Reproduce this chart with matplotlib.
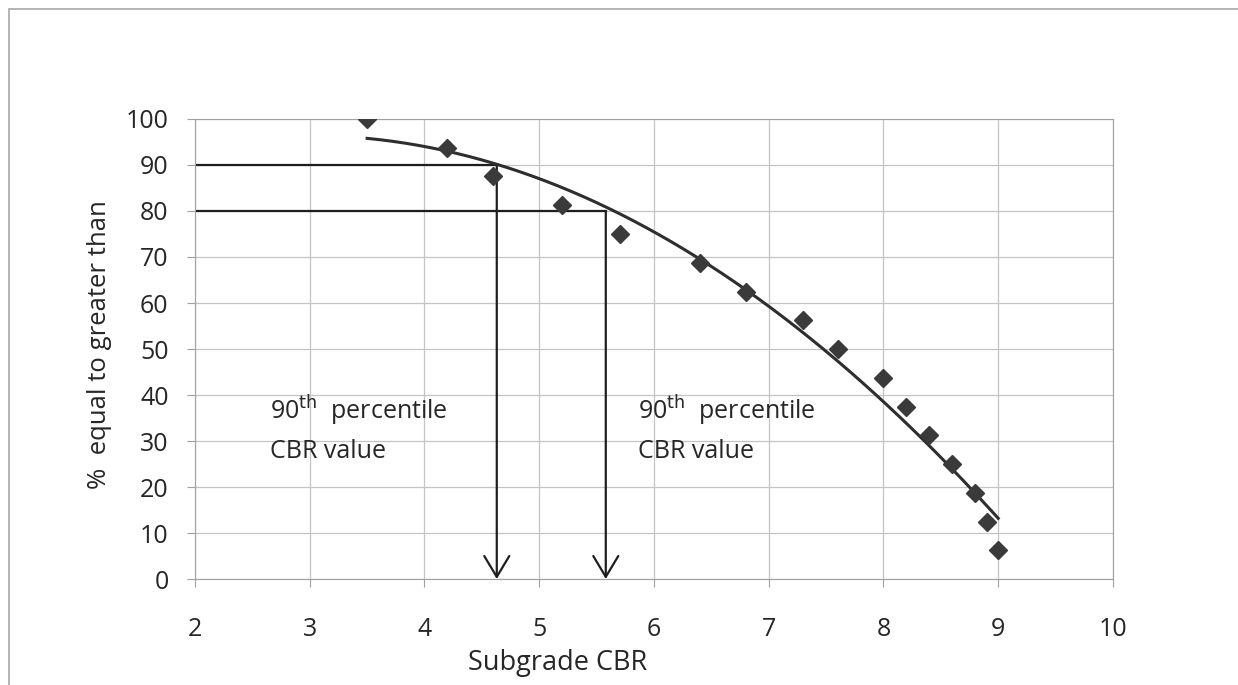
import matplotlib.pyplot as plt
import numpy as np
from matplotlib.patches import Rectangle

plt.rcParams['font.family'] = ['Open Sans', 'DejaVu Sans']

## data
cbr = [3.5, 4.2, 4.6, 5.2, 5.7, 6.4, 6.8, 7.3, 7.6, 8.0, 8.2, 8.4, 8.6, 8.8, 8.9, 9.0]
pct = [100, 93.75, 87.5, 81.25, 75, 68.75, 62.5, 56.25, 50, 43.75, 37.5, 31.25, 25, 18.75, 12.5, 6.25]
xticks = [2, 3, 4, 5, 6, 7, 8, 9, 10]
yticks = [0, 10, 20, 30, 40, 50, 60, 70, 80, 90, 100]
cbr_90 = [4.63, 5.58]
pct_lines = [90, 80]

fig = plt.figure(figsize=(12.38, 6.85), dpi=100)
ax = fig.add_axes([0.1575, 0.1547, 0.7415, 0.6716])

# outer frame of the scanned figure
fig.patches.append(Rectangle((9 / 1238, -0.1), 2.0, 1 - 9 / 685 + 0.1,
                             transform=fig.transFigure, fill=False,
                             edgecolor='#a8a8a8', lw=1.2))

ax.grid(True, color='#c4c4c4', lw=0.9)
ax.set_axisbelow(True)

## polynomial trendline (like Excel)
coef = np.polyfit(cbr, pct, 2)
xs = np.linspace(min(cbr), max(cbr), 200)
ax.plot(xs, np.polyval(coef, xs), color='#2e2e2e', lw=2.2, zorder=3)

ax.plot(cbr, pct, linestyle='none', marker='D', ms=9, color='#3a3a3a', zorder=4)

# percentile construction lines
for xv, yv in zip(cbr_90, pct_lines):
    ax.plot([2, xv], [yv, yv], color='#1e1e1e', lw=1.6, zorder=2)
    ax.annotate('', xy=(xv, 0), xytext=(xv, yv),
                arrowprops=dict(arrowstyle='->,head_length=0.75,head_width=0.45',
                                mutation_scale=20, shrinkA=0, shrinkB=0,
                                color='#1e1e1e', lw=1.6), zorder=2)

for tx in [2.65, 5.86]:
    ax.text(tx, 36.5, r'90$^{\mathrm{th}}$  percentile', fontsize=18, color='#262626',
            va='center', ha='left')
    ax.text(tx, 27.8, 'CBR value', fontsize=18, color='#262626', va='center', ha='left')

ax.set_xlim(2, 10)
ax.set_ylim(0, 100)
ax.set_xticks(xticks)
ax.set_yticks(yticks)
ax.tick_params(labelsize=18, colors='#262626', length=6, color='#a0a0a0')
ax.tick_params(axis='x', pad=21)
ax.tick_params(axis='y', pad=13)
for s in ax.spines.values():
    s.set_color('#a0a0a0')

ax.set_xlabel('Subgrade CBR', fontsize=19.5, color='#262626')
ax.set_ylabel('%  equal to greater than', fontsize=18.5, color='#262626')
ax.xaxis.label.set_va('center')
ax.yaxis.label.set_va('center')
ax.xaxis.set_label_coords(0.395, -0.183)
ax.yaxis.set_label_coords(-0.1035, 0.51)

fig.savefig('out.png', dpi=100)
